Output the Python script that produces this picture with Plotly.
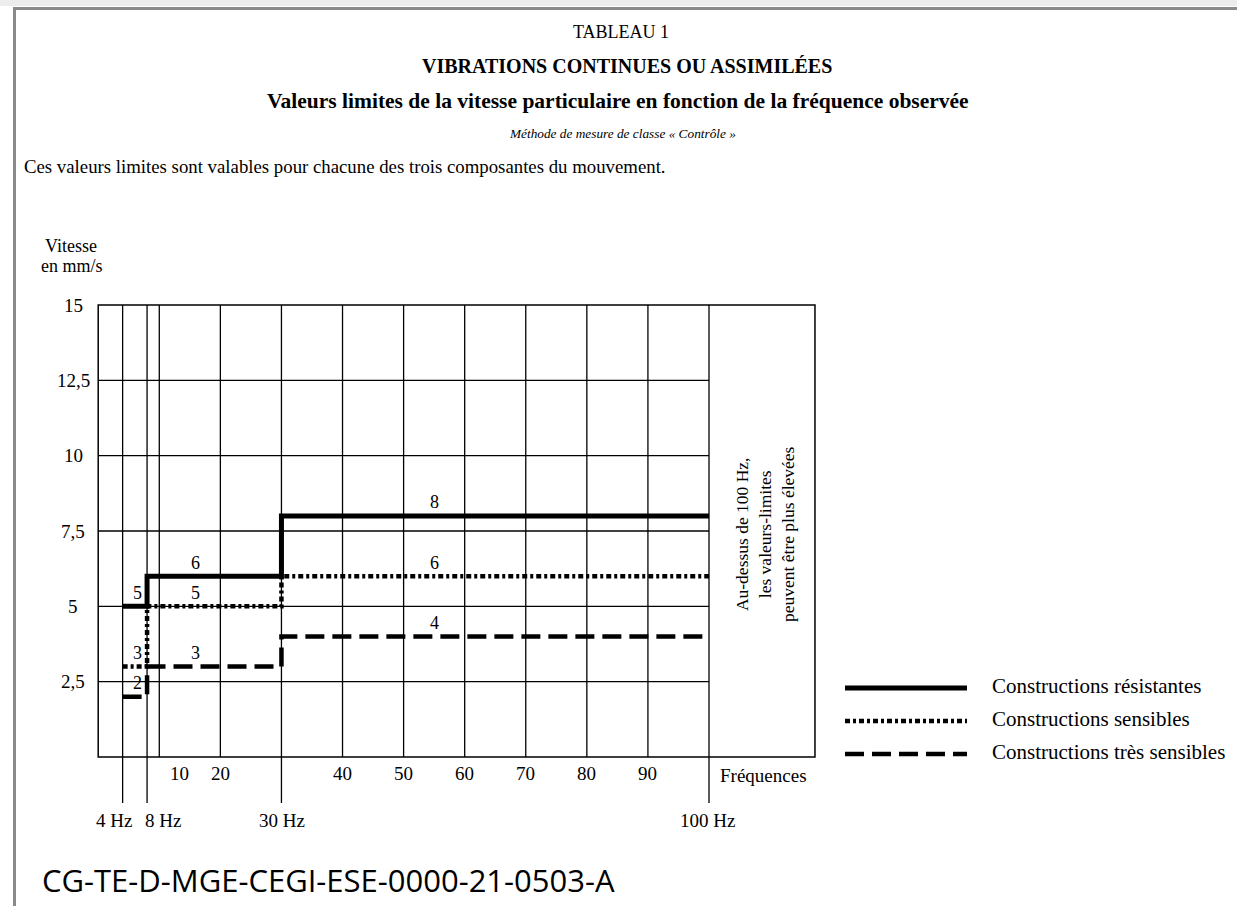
import plotly.graph_objects as go

W, H = 1237, 906

# data
freq_steps = [4, 8, 30, 100]
resistantes = [5, 6, 8, 8]
sensibles = [3, 5, 6, 6]
tres_sensibles = [2, 3, 4, 4]

series_names = ["Constructions résistantes", "Constructions sensibles", "Constructions très sensibles"]

y_ticks = [2.5, 5, 7.5, 10, 12.5, 15]
y_tick_text = ["2,5", "5", "7,5", "10", "12,5", "15"]
x_grid = [4, 8, 10, 20, 30, 40, 50, 60, 70, 80, 90, 100]
x_tick_vals = [10, 20, 40, 50, 60, 70, 80, 90]
x_hz_vals = [4, 8, 30, 100]
x_hz_text = ["4 Hz", "8 Hz", "30 Hz", "100 Hz"]

SERIF = "Liberation Serif"


def px(x):
    return x / W


def py(y):
    return 1 - y / H


styles = [
    dict(color="black", width=5, dash="solid"),
    dict(color="black", width=4.5, dash="5px,3px,3px,3px"),
    dict(color="black", width=4.5, dash="19px,8px"),
]

fig = go.Figure()

for vals, name, st in zip([resistantes, sensibles, tres_sensibles], series_names, styles):
    fig.add_trace(go.Scatter(
        x=freq_steps, y=vals, mode="lines", name=name,
        line=dict(shape="hv", **st), showlegend=False, hoverinfo="skip",
    ))

shapes = []
# page frame
shapes.append(dict(type="rect", xref="paper", yref="paper", x0=0, x1=1, y0=py(0), y1=py(6),
                   fillcolor="#ededed", line_width=0, layer="below"))
shapes.append(dict(type="line", xref="paper", yref="paper", x0=px(13), x1=1, y0=py(8.5), y1=py(8.5),
                   line=dict(color="#8a8a8a", width=3)))
shapes.append(dict(type="line", xref="paper", yref="paper", x0=px(14.5), x1=px(14.5), y0=py(7), y1=0,
                   line=dict(color="#8a8a8a", width=3)))

# chart frame (incl. right box above 100 Hz)
x_frame_right = 117.35
shapes.append(dict(type="rect", xref="x", yref="y", x0=0, x1=x_frame_right, y0=0, y1=15,
                   line=dict(color="black", width=1.5), layer="below"))
# horizontal grid
for yv in y_ticks[:-1]:
    shapes.append(dict(type="line", xref="x", yref="y", x0=0, x1=100, y0=yv, y1=yv,
                       line=dict(color="black", width=1.3), layer="below"))
# vertical grid
for xv in x_grid:
    y0 = -1.53 if xv in x_hz_vals else 0
    shapes.append(dict(type="line", xref="x", yref="y", x0=xv, x1=xv, y0=y0, y1=15,
                       line=dict(color="black", width=1.3), layer="below"))

# legend samples
leg_y = [688, 721, 754]
for st, ly in zip(styles, leg_y):
    shapes.append(dict(type="line", xref="paper", yref="paper", x0=px(845), x1=px(967),
                       y0=py(ly), y1=py(ly), line=st))

ann = []


def text(x, y, s, size=19, xanchor="center", xref="paper", yref="paper", **kw):
    ann.append(dict(x=x, y=y, xref=xref, yref=yref, text=s, showarrow=False,
                    xanchor=xanchor, yanchor="middle",
                    font=dict(family=kw.pop("family", SERIF), size=size, color="black"), **kw))


# titles
text(px(621), py(32), "TABLEAU 1", 18)
text(px(627), py(66), "<b>VIBRATIONS CONTINUES OU ASSIMILÉES</b>", 20)
text(px(618), py(101), "<b>Valeurs limites de la vitesse particulaire en fonction de la fréquence observée</b>", 21.5)
text(px(622), py(134), "<i>Méthode de mesure de classe « Contrôle »</i>", 13.3)
text(px(22), py(167), "Ces valeurs limites sont valables pour chacune des trois composantes du mouvement.", 18.8,
     xanchor="left")

# y axis label and ticks
text(px(71), py(246), "Vitesse", 18)
text(px(72), py(266), "en mm/s", 18)
for yv, lab in zip(y_ticks, y_tick_text):
    text(px(73), yv, lab, 19, yref="y")

# x tick labels
for xv in x_tick_vals:
    text(xv, py(773), str(xv), 19, xref="x", xshift=20 if xv == 10 else 0)
hz_shift = {4: -9, 8: 16, 30: 1, 100: -2}
for xv, lab in zip(x_hz_vals, x_hz_text):
    text(xv, py(820), lab, 19, xref="x", xshift=hz_shift[xv])
text(px(763), py(775), "Fréquences", 19)

# values on the steps
label_x = [6.5, 16, 55]
for vals in [resistantes, sensibles, tres_sensibles]:
    for lx, v in zip(label_x, vals[:3]):
        text(lx, v + 0.45, str(v), 18, xref="x", yref="y")

# note in right box
text(px(765), py(534), "Au-dessus de 100 Hz,<br>les valeurs-limites<br>peuvent être plus élevées", 17.5,
     textangle=-90)

# legend texts
for name, ly in zip(series_names, leg_y):
    text(px(990), py(ly - 2), name, 21, xanchor="left")

# footer
text(px(40), py(880), "CG-TE-D-MGE-CEGI-ESE-0000-21-0503-A", 31, xanchor="left", family="Open Sans")

x_lo, x_hi = -2, 120
y_lo, y_hi = -3, 16
fig.update_layout(
    width=W, height=H,
    margin=dict(l=0, r=0, t=0, b=0),
    paper_bgcolor="white", plot_bgcolor="rgba(0,0,0,0)",
    shapes=shapes, annotations=ann,
    xaxis=dict(range=[x_lo, x_hi], visible=False, fixedrange=True,
               domain=[px(98.2 + 6.108 * x_lo), px(98.2 + 6.108 * x_hi)]),
    yaxis=dict(range=[y_lo, y_hi], visible=False, fixedrange=True,
               domain=[py(757 - 30.13 * y_lo), py(757 - 30.13 * y_hi)]),
)

fig.write_html("out.html", config={"displayModeBar": False},
               post_script="document.body.style.margin='0';")
